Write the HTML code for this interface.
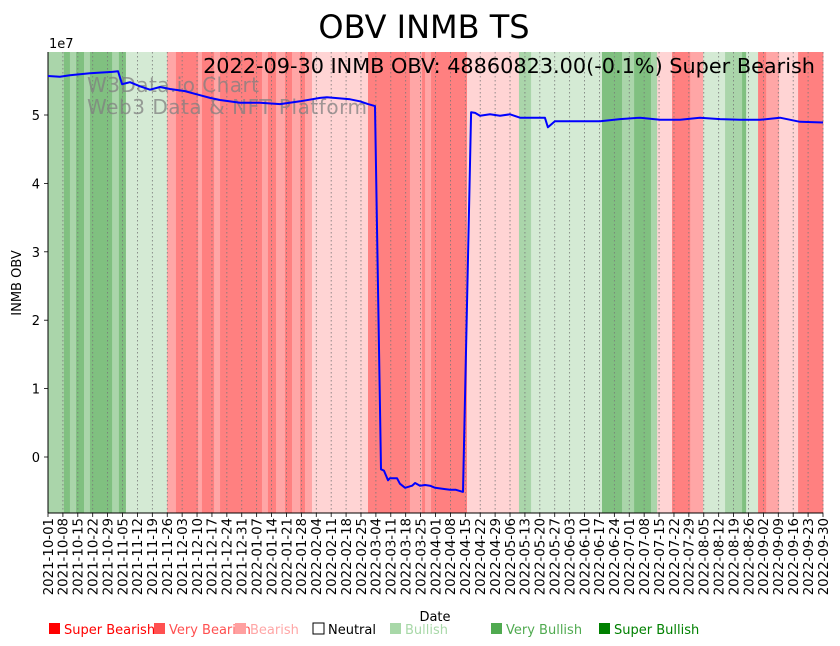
<!DOCTYPE html>
<html><head><meta charset="utf-8"><style>
body{margin:0;background:#fff;}
svg{display:block;font-family:"DejaVu Sans","Liberation Sans",sans-serif;}
</style></head><body>
<svg id="c" width="840" height="646"></svg>
<script>
const startDate = new Date(Date.UTC(2021,9,1));
const totalDays = 364;
// background signal bands (days from 2021-10-01), level -3..3
const bandStart = [0,7.5,10.3,13.2,16.9,19.7,30.1,33.3,36.6,55.9,60.1,70.5,72.3,78.0,80.8,100.5,103.3,107.1,111.3,114.6,118.4,120.7,124.0,150.3,170.0,175.7,177.1,179.9,196.8,221.2,226.9,260.2,269.6,275.3,283.2,286.1,293.1,301.6,307.7,318.0,326.0,327.9,333.5,337.3,343.4,352.3];
const bandEnd   = [7.5,10.3,13.2,16.9,19.7,30.1,33.3,36.6,55.9,60.1,70.5,72.3,78.0,80.8,100.5,103.3,107.1,111.3,114.6,118.4,120.7,124.0,150.3,170.0,175.7,177.1,179.9,196.8,221.2,226.9,260.2,269.6,275.3,283.2,286.1,293.1,301.6,307.7,318.0,326.0,327.9,333.5,337.3,343.4,352.3,364];
const bandLevel = [2,3,2,3,2,3,2,3,1,-2,-3,-2,-3,-2,-3,-2,-3,-2,-3,-2,-3,-2,-1,-3,-2,-3,-2,-3,-1,2,1,3,2,3,2,-1,-3,-2,1,2,3,1,-3,-2,-1,-3];
// OBV series: day index, value (1e7)
const obvDay = [0,5.6,10.3,19.7,30.1,32.9,34.8,38.5,43.2,47.9,52.6,57.3,64.3,71.4,76.1,80.8,90.2,99.6,109,118.4,127.8,131,141.9,146.5,150.3,153.6,156.4,157.8,159.7,160.6,163.9,165.3,167.7,171,172.4,174.7,177.1,179.4,181.8,186.5,188.8,191.6,194.9,198.7,200.6,202.9,207.6,212.3,217,221.7,233.4,234.8,238.1,245.2,259.3,268.7,278.1,287.5,296.9,306.2,315.6,325,334.4,343.8,353.2,364];
const obvVal = [5.57,5.56,5.58,5.61,5.63,5.64,5.45,5.48,5.42,5.37,5.41,5.38,5.35,5.29,5.25,5.22,5.18,5.18,5.16,5.20,5.25,5.26,5.23,5.20,5.16,5.13,-0.18,-0.20,-0.34,-0.31,-0.31,-0.39,-0.45,-0.42,-0.38,-0.42,-0.41,-0.42,-0.45,-0.47,-0.48,-0.48,-0.51,5.04,5.03,4.99,5.01,4.99,5.01,4.96,4.96,4.82,4.91,4.91,4.91,4.94,4.96,4.93,4.93,4.96,4.94,4.93,4.93,4.96,4.90,4.89];
const yTicks = [0,1,2,3,4,5];
const legendLabels = ["Super Bearish","Very Bearish","Bearish","Neutral","Bullish","Very Bullish","Super Bullish"];

const X0=48,X1=823,Y0=52,Y1=513;
const xs = d => X0 + d*(X1-X0)/totalDays;
const ys = v => 457 - v*68.4;
const NS="http://www.w3.org/2000/svg";
const svg=document.getElementById('c');
function mk(tag,attrs,parent){const e=document.createElementNS(NS,tag);for(const k in attrs)e.setAttribute(k,attrs[k]);(parent||svg).appendChild(e);return e;}
const colors={"-3":"#ff8080","-2":"#ffa6a6","-1":"#ffd4d4","0":"#ffffff","1":"#d4ead4","2":"#aad5aa","3":"#80c080"};

const bg=mk('g',{});


bandStart.forEach((s,i)=>{
  const a=xs(s), b=xs(bandEnd[i]);
  const r=mk('rect',{x:a,y:Y0,width:Math.max(0,b-a+0.4),height:Y1-Y0,fill:colors[bandLevel[i]]},bg);
  
  
});

const grid=mk('g',{});
for(let d=0; d<=totalDays; d+=7){
  const x=xs(d);
  const l=mk('line',{x1:x,x2:x,y1:Y0,y2:Y1,stroke:'#777','stroke-width':0.8,'stroke-dasharray':'1.5,2.5'},grid);
  
  
  mk('line',{x1:x,x2:x,y1:Y1,y2:Y1+4,stroke:'#000','stroke-width':0.8});
  const dt=new Date(startDate.getTime()+d*86400000);
  const s=dt.toISOString().slice(0,10);
  const t=mk('text',{x:0,y:0,'font-size':13.3,'text-anchor':'end',transform:`translate(${x+4.8},${Y1+5}) rotate(-90)`});
  t.textContent=s;
  
  
}
yTicks.forEach(v=>{
  const y=ys(v);
  mk('line',{x1:X0-4,x2:X0,y1:y,y2:y,stroke:'#000','stroke-width':0.8});
  const t=mk('text',{x:X0-8,y:y+5,'font-size':13,'text-anchor':'end'});
  t.textContent=v;
  
  
});
mk('line',{x1:X0,x2:X0,y1:Y0,y2:Y1,stroke:'#000','stroke-width':1});
mk('line',{x1:X0,x2:X1,y1:Y1,y2:Y1,stroke:'#000','stroke-width':1});

const w1=mk('text',{x:87,y:92,'font-size':20,fill:'#808080','fill-opacity':0.75,textLength:172});w1.textContent='W3Data.io Chart';

const w2=mk('text',{x:87,y:114,'font-size':20,fill:'#808080','fill-opacity':0.75,textLength:280});w2.textContent='Web3 Data & NFT Platform';


const line=mk('polyline',{points:obvDay.map((d,i)=>xs(d).toFixed(1)+','+ys(obvVal[i]).toFixed(1)).join(' '),fill:'none',stroke:'#0000ff','stroke-width':2,'stroke-linejoin':'round'});



const tt=mk('text',{x:424,y:38,'font-size':32,'text-anchor':'middle'});tt.textContent='OBV INMB TS';

const ann=mk('text',{x:815,y:73,'font-size':20.8,'text-anchor':'end'});ann.textContent='2022-09-30 INMB OBV: 48860823.00(-0.1%) Super Bearish';

const sc=mk('text',{x:49,y:48,'font-size':13});sc.textContent='1e7';

const yl=mk('text',{x:0,y:0,'font-size':13,'text-anchor':'middle',transform:'translate(21,283) rotate(-90)'});yl.textContent='INMB OBV';

const xl=mk('text',{x:435,y:621,'font-size':13,'text-anchor':'middle'});xl.textContent='Date';


const legX=[49,154,235,313,390,491,599];
const legSw=['#ff0000','#ff5050','#ffa0a0','#ffffff','#a8d8a8','#50aa50','#008000'];
const legTx=['#ff0000','#ff5050','#ffa6a6','#000000','#a8d8a8','#50aa50','#008000'];
legendLabels.forEach((s,i)=>{
  const g=mk('g',{});
  
  
  mk('rect',{x:legX[i],y:623,width:11,height:11,fill:legSw[i],stroke:i==3?'#000':'none','stroke-width':1},g);
  const t=mk('text',{x:legX[i]+15,y:634,'font-size':13,fill:legTx[i]},g);t.textContent=s;
});
</script>
</body></html>
